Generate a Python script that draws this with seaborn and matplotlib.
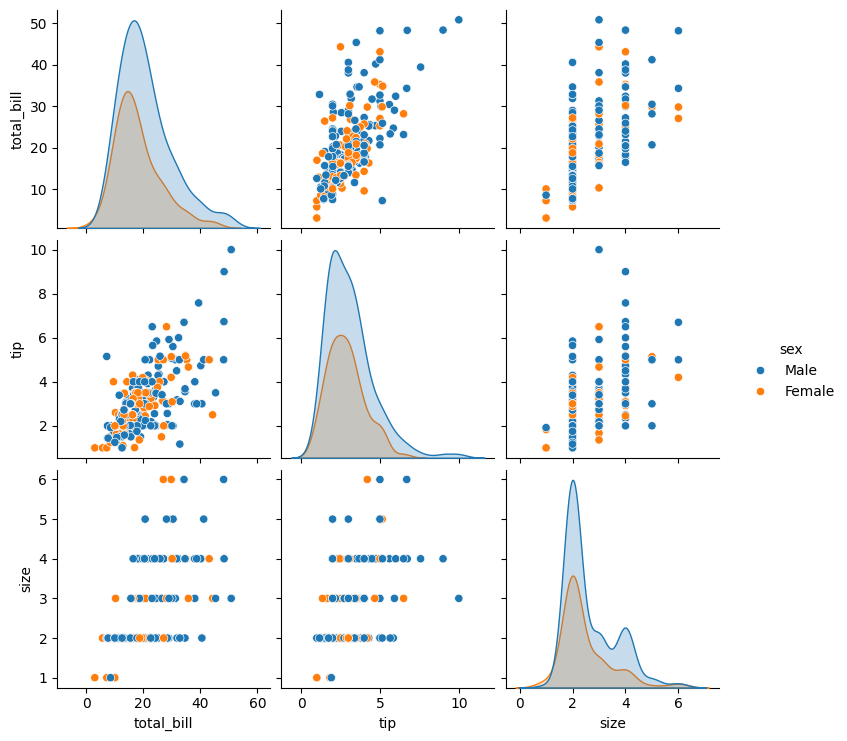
import matplotlib
matplotlib.use("Agg")
import pandas as pd
import seaborn as sns

total_bill = [
    16.99, 10.34, 21.01, 23.68, 24.59, 25.29, 8.77, 26.88, 15.04, 14.78,
    10.27, 35.26, 15.42, 18.43, 14.83, 21.58, 10.33, 16.29, 16.97, 20.65,
    17.92, 20.29, 15.77, 39.42, 19.82, 17.81, 13.37, 12.69, 21.7, 19.65,
    9.55, 18.35, 15.06, 20.69, 17.78, 24.06, 16.31, 16.93, 18.69, 31.27,
    16.04, 17.46, 13.94, 9.68, 30.4, 18.29, 22.23, 32.4, 28.55, 18.04,
    12.54, 10.29, 34.81, 9.94, 25.56, 19.49, 38.01, 26.41, 11.24, 48.27,
    20.29, 13.81, 11.02, 18.29, 17.59, 20.08, 16.45, 3.07, 20.23, 15.01,
    12.02, 17.07, 26.86, 25.28, 14.73, 10.51, 17.92, 27.2, 22.76, 17.29,
    19.44, 16.66, 10.07, 32.68, 15.98, 34.83, 13.03, 18.28, 24.71, 21.16,
    28.97, 22.49, 5.75, 16.32, 22.75, 40.17, 27.28, 12.03, 21.01, 12.46,
    11.35, 15.38, 44.3, 22.42, 20.92, 15.36, 20.49, 25.21, 18.24, 14.31,
    14.0, 7.25, 38.07, 23.95, 25.71, 17.31, 29.93, 10.65, 12.43, 24.08,
    11.69, 13.42, 14.26, 15.95, 12.48, 29.8, 8.52, 14.52, 11.38, 22.82,
    19.08, 20.27, 11.17, 12.26, 18.26, 8.51, 10.33, 14.15, 16.0, 13.16,
    17.47, 34.3, 41.19, 27.05, 16.43, 8.35, 18.64, 11.87, 9.78, 7.51,
    14.07, 13.13, 17.26, 24.55, 19.77, 29.85, 48.17, 25.0, 13.39, 16.49,
    21.5, 12.66, 16.21, 13.81, 17.51, 24.52, 20.76, 31.71, 10.59, 10.63,
    50.81, 15.81, 7.25, 31.85, 16.82, 32.9, 17.89, 14.48, 9.6, 34.63,
    34.65, 23.33, 45.35, 23.17, 40.55, 20.69, 20.9, 30.46, 18.15, 23.1,
    15.69, 19.81, 28.44, 15.48, 16.58, 7.56, 10.34, 43.11, 13.0, 13.51,
    18.71, 12.74, 13.0, 16.4, 20.53, 16.47, 26.59, 38.73, 24.27, 12.76,
    30.06, 25.89, 48.33, 13.27, 28.17, 12.9, 28.15, 11.59, 7.74, 30.14,
    12.16, 13.42, 8.58, 15.98, 13.42, 16.27, 10.09, 20.45, 13.28, 22.12,
    24.01, 15.69, 11.61, 10.77, 15.53, 10.07, 12.6, 32.83, 35.83, 29.03,
    27.18, 22.67, 17.82, 18.78,
]

tip = [
    1.01, 1.66, 3.5, 3.31, 3.61, 4.71, 2.0, 3.12, 1.96, 3.23,
    1.71, 5.0, 1.57, 3.0, 3.02, 3.92, 1.67, 3.71, 3.5, 3.35,
    4.08, 2.75, 2.23, 7.58, 3.18, 2.34, 2.0, 2.0, 4.3, 3.0,
    1.45, 2.5, 3.0, 2.45, 3.27, 3.6, 2.0, 3.07, 2.31, 5.0,
    2.24, 2.54, 3.06, 1.32, 5.6, 3.0, 5.0, 6.0, 2.05, 3.0,
    2.5, 2.6, 5.2, 1.56, 4.34, 3.51, 3.0, 1.5, 1.76, 6.73,
    3.21, 2.0, 1.98, 3.76, 2.64, 3.15, 2.47, 1.0, 2.01, 2.09,
    1.97, 3.0, 3.14, 5.0, 2.2, 1.25, 3.08, 4.0, 3.0, 2.71,
    3.0, 3.4, 1.83, 5.0, 2.03, 5.17, 2.0, 4.0, 5.85, 3.0,
    3.0, 3.5, 1.0, 4.3, 3.25, 4.73, 4.0, 1.5, 3.0, 1.5,
    2.5, 3.0, 2.5, 3.48, 4.08, 1.64, 4.06, 4.29, 3.76, 4.0,
    3.0, 1.0, 4.0, 2.55, 4.0, 3.5, 5.07, 1.5, 1.8, 2.92,
    2.31, 1.68, 2.5, 2.0, 2.52, 4.2, 1.48, 2.0, 2.0, 2.18,
    1.5, 2.83, 1.5, 2.0, 3.25, 1.25, 2.0, 2.0, 2.0, 2.75,
    3.5, 6.7, 5.0, 5.0, 2.3, 1.5, 1.36, 1.63, 1.73, 2.0,
    2.5, 2.0, 2.74, 2.0, 2.0, 5.14, 5.0, 3.75, 2.61, 2.0,
    3.5, 2.5, 2.0, 2.0, 3.0, 3.48, 2.24, 4.5, 1.61, 2.0,
    10.0, 3.16, 5.15, 3.18, 4.0, 3.11, 2.0, 2.0, 4.0, 3.55,
    3.68, 5.65, 3.5, 6.5, 3.0, 5.0, 3.5, 2.0, 3.5, 4.0,
    1.5, 4.19, 2.56, 2.02, 4.0, 1.44, 2.0, 5.0, 2.0, 2.0,
    4.0, 2.01, 2.0, 2.5, 4.0, 3.23, 3.41, 3.0, 2.03, 2.23,
    2.0, 5.16, 9.0, 2.5, 6.5, 1.1, 3.0, 1.5, 1.44, 3.09,
    2.2, 3.48, 1.92, 3.0, 1.58, 2.5, 2.0, 3.0, 2.72, 2.88,
    2.0, 3.0, 3.39, 1.47, 3.0, 1.25, 1.0, 1.17, 4.67, 5.92,
    2.0, 2.0, 1.75, 3.0,
]

sex_codes = (
    "FMMMFMMMMM" "MFMMFMFMFM" "MFFMMMMMMF" "MMFFMMMFMM"
    "MMMMMMMMMM" "MFFMMMMFMM" "MMMMMMFFMM" "MFFFFMMMMM"
    "MMFMMFMMMM" "MMFFFMMMMM" "FFFFFMMMMF" "MFMMFFMFFF"
    "MFMMFFMFFM" "MFFFFFFFMF" "FMMFFFFFMM" "MMMMMFMFFM"
    "MMFMFMMMFF" "MMMMMMMMFM" "MMMMMMFMFM" "MFMMMMMFFM"
    "MFFFMFMMMF" "MMMFFFMMMF" "MFMFMFFMMF" "MMMMMMMMFM"
    "FMMF"
)

size = [
    2, 3, 3, 2, 4, 4, 2, 4, 2, 2,
    2, 4, 2, 4, 2, 2, 3, 3, 3, 3,
    2, 2, 2, 4, 2, 4, 2, 2, 2, 2,
    2, 4, 2, 4, 2, 3, 3, 3, 3, 3,
    3, 2, 2, 2, 4, 2, 2, 4, 3, 2,
    2, 2, 4, 2, 4, 2, 4, 2, 2, 4,
    2, 2, 2, 4, 3, 3, 2, 1, 2, 2,
    2, 3, 2, 2, 2, 2, 2, 4, 2, 2,
    2, 2, 1, 2, 2, 4, 2, 2, 2, 2,
    2, 2, 2, 2, 2, 4, 2, 2, 2, 2,
    2, 2, 3, 2, 2, 2, 2, 2, 2, 2,
    2, 1, 3, 2, 3, 2, 4, 2, 2, 4,
    2, 2, 2, 2, 2, 6, 2, 2, 2, 3,
    2, 2, 2, 2, 2, 2, 2, 2, 2, 2,
    2, 6, 5, 6, 2, 2, 3, 2, 2, 2,
    2, 2, 3, 4, 4, 5, 6, 4, 2, 4,
    4, 2, 3, 2, 2, 3, 2, 4, 2, 2,
    3, 2, 2, 2, 2, 2, 2, 2, 2, 2,
    4, 2, 3, 4, 2, 5, 3, 5, 3, 3,
    2, 2, 2, 2, 2, 2, 2, 4, 2, 2,
    3, 2, 2, 2, 4, 3, 3, 4, 2, 2,
    3, 4, 4, 2, 3, 2, 5, 2, 2, 4,
    2, 2, 1, 3, 2, 2, 2, 4, 2, 2,
    4, 3, 2, 2, 2, 2, 2, 2, 3, 3,
    2, 2, 2, 2,
]

sex_names = {"M": "Male", "F": "Female"}
sex_order = ["Male", "Female"]

n = min(len(total_bill), len(tip), len(sex_codes), len(size))
df = pd.DataFrame({
    "total_bill": total_bill[:n],
    "tip": tip[:n],
    "sex": [sex_names[c] for c in sex_codes[:n]],
    "size": size[:n],
})

g = sns.pairplot(df, hue="sex", hue_order=sex_order)
g.savefig("out.png", dpi=100)
